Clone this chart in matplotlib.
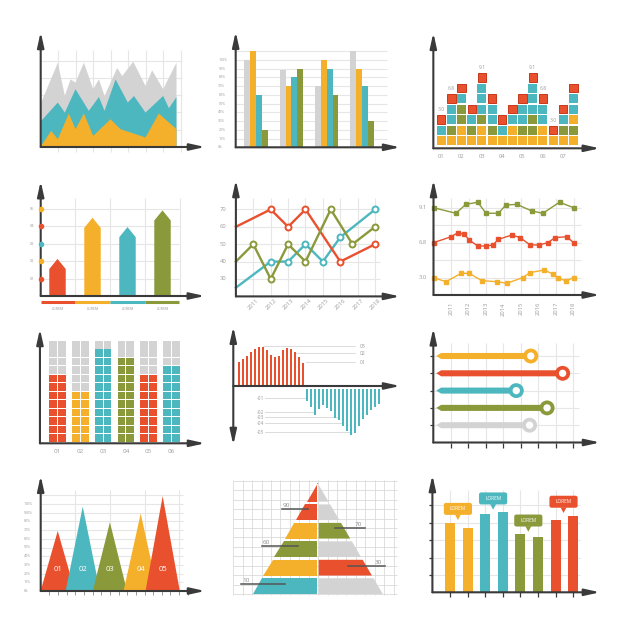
import numpy as np
import matplotlib.pyplot as plt
from matplotlib.patches import Polygon, Rectangle, Circle, FancyBboxPatch

plt.rcParams['font.family'] = ['Open Sans', 'DejaVu Sans']

W = H = 626
RED = '#e9512e'
ORANGE = '#f5b02b'
TEAL = '#4db7bf'
GREEN = '#8a9a3b'
GRAY = '#d3d3d3'
AXC = '#3a3a3a'
GRID = '#e6e6e6'
TXT = '#9c9c9c'
COL = {'r': RED, 'o': ORANGE, 't': TEAL, 'g': GREEN, 'y': GRAY}
GKW = dict(color=GRID, lw=0.8, zorder=0)

# --- data ---------------------------------------------------------------
# 1: overlapping areas
area_gray_x = [0, 0.95, 1.35, 1.68, 1.96, 2.44, 2.97, 3.3, 3.62, 4.34, 4.63, 5.26, 5.96, 6.34, 6.97, 7.73]
area_gray_y = [2.6, 4.9, 3.0, 3.94, 3.75, 4.9, 3.37, 3.94, 2.98, 4.6, 4.13, 4.96, 3.56, 4.46, 3.37, 4.9]
area_teal_x = [0, 0.95, 1.35, 1.96, 2.72, 3.3, 3.62, 4.25, 4.95, 5.3, 5.96, 6.97, 7.3, 7.73]
area_teal_y = [1.54, 2.6, 2.02, 3.37, 2.12, 2.92, 2.12, 3.94, 2.6, 2.98, 2.02, 2.98, 2.27, 2.92]
area_orange_x = [0, 0.57, 0.95, 1.58, 1.96, 2.44, 2.97, 3.96, 4.53, 5.96, 6.72, 7.73]
area_orange_y = [0.1, 0.96, 0.48, 1.96, 1.06, 1.96, 0.67, 1.63, 1.06, 0.58, 1.96, 1.06]

# 2: grouped percent bars
pct_gray = [100, 89, 70, 110]
pct_orange = [110, 70, 100, 90]
pct_teal = [60, 80, 90, 70]
pct_green = [20, 90, 60, 30]
pct_ticks = list(range(0, 101, 10))

# 3: stacked squares (bottom -> top)
sq_stacks = ['otr', 'ogttr', 'ooggtr', 'ogtr', 'oogtttr', 'ogttr', 'otr',
             'ootr', 'ogttr', 'oggtttr', 'oottr', 'or', 'ogtr', 'ogottr']
sq_notes = {1: '3.0', 2: '6.8', 5: '9.1', 10: '9.1', 11: '6.8', 12: '3.0'}
sq_xlabels = ['01', '02', '03', '04', '05', '06', '07']

# 4: arrow bars
arr_vals = [2.13, 4.5, 3.96, 4.92]
arr_colors = [RED, ORANGE, TEAL, GREEN]
arr_names = ['LOREM', 'LOREM', 'LOREM', 'LOREM']
arr_ylabels = ['01', '02', '03', '04', '05']
arr_dots = [RED, ORANGE, TEAL, RED, ORANGE]

# 5: line chart with rings
years = list(range(2011, 2019))
ln_red_x = [2010, 2012, 2013, 2014, 2016, 2018]
ln_red_y = [60, 70, 60, 70, 40, 50]
ln_teal_x = [2010, 2012, 2013, 2014, 2015, 2016, 2018]
ln_teal_y = [25, 40, 40, 50, 40, 54, 70]
ln_green_x = [2010, 2011, 2012, 2013, 2014, 2015.45, 2016.7, 2018]
ln_green_y = [40, 50, 30, 50, 40, 70, 50, 60]
ln_yticks = [30, 40, 50, 60, 70]

# 6: line chart with squares (values in grid steps)
sl_green_x = [2010, 2011.28, 2011.85, 2012.53, 2013.0, 2013.71, 2014.13, 2014.76, 2015.62, 2016.25, 2017.2, 2018]
sl_green_y = [4.99, 4.67, 5.18, 5.3, 4.67, 4.67, 5.14, 5.18, 4.8, 4.67, 5.3, 4.99]
sl_red_x = [2010, 2011.01, 2011.39, 2011.77, 2012.04, 2012.53, 2013.01, 2013.39, 2013.71, 2014.48, 2014.95,
            2015.52, 2016.04, 2016.53, 2016.95, 2017.62, 2018]
sl_red_y = [2.99, 3.33, 3.56, 3.47, 3.14, 2.8, 2.8, 2.86, 3.18, 3.43, 3.28, 2.86, 2.86, 2.99, 3.28, 3.33, 2.99]
sl_orange_x = [2010, 2010.72, 2011.58, 2012.04, 2012.76, 2013.62, 2014.19, 2015.09, 2015.52, 2016.34,
               2016.8, 2017.1, 2017.56, 2018]
sl_orange_y = [0.99, 0.76, 1.24, 1.24, 0.82, 0.76, 0.67, 0.99, 1.28, 1.43, 1.2, 0.99, 0.8, 0.99]
sl_ylabels = {1: '3.0', 3: '6.8', 5: '9.1'}

# 7: waffle columns
wf_filled = [8, 6, 11, 10, 8, 9]
wf_colors = [RED, ORANGE, TEAL, GREEN, RED, TEAL]
wf_rows = 12
wf_labels = ['01', '02', '03', '04', '05', '06']

# 8: positive / negative bars
pn_pos = [2.37, 2.67, 3.0, 3.37, 3.67, 3.93, 3.93, 3.6, 3.1, 2.93, 3.0, 3.6, 3.77, 3.7, 3.37, 2.87, 2.33]
pn_neg = [1.23, 1.83, 2.63, 2.07, 1.63, 1.9, 2.23, 2.9, 3.17, 3.73, 4.23, 4.63, 4.4, 3.73, 3.07, 2.63,
          2.17, 1.83, 1.5]
pn_pos_marks = [('03', 4.0, 6), ('02', 3.27, 13.9), ('01', 2.37, 16.6)]
pn_neg_marks = [('-01', 1.23, 17), ('-02', 2.63, 19), ('-03', 3.1, 24.5), ('-04', 3.73, 26), ('-05', 4.63, 28)]

# 9: lollipop bars (top -> bottom)
lp_vals = [5.57, 7.39, 4.74, 6.5, 5.5]
lp_colors = [ORANGE, RED, TEAL, GREEN, GRAY]

# 10: triangles
tri_pos = [1.97, 4.86, 8.0, 11.56, 14.1]
tri_vals = [69, 97, 79, 89, 109]
tri_colors = [RED, TEAL, GREEN, ORANGE, RED]
tri_labels = ['01', '02', '03', '04', '05']
tri_yticks = ['0%', '10%', '20%', '30%', '40%', '50%', '60%', '70%', '80%', '900%', '100%']

# 11: pyramid (bottom -> top)
pyr_left = [TEAL, ORANGE, GREEN, ORANGE, RED, RED]
pyr_right = [GRAY, RED, GRAY, GREEN, GRAY, GRAY]
pyr_notes = [('90', 9.01, 5.14, 7.96), ('70', 7.03, 10.79, 13.97), ('60', 5.05, 3.0, 6.89),
             ('30', 3.0, 12.2, 16.1), ('10', 1.06, 0.82, 5.48)]

# 12: paired bars with callouts
pb_vals = [4.0, 3.68, 4.48, 4.6, 3.33, 3.2, 4.18, 4.41]
pb_colors = [ORANGE, TEAL, GREEN, RED]
pb_callout = ['LOREM', 'LOREM', 'LOREM', 'LOREM']

# --- helpers ------------------------------------------------------------
fig = plt.figure(figsize=(6.26, 6.26), dpi=100)
fig.patch.set_facecolor('white')


def panel(l, t, r, b, ox, oy, ux, uy, x0=0.0, y0=0.0):
    # box in image pixels; (ox, oy) is where data (x0, y0) sits; ux/uy pixels per unit
    ax = fig.add_axes([l / W, 1 - b / H, (r - l) / W, (b - t) / H])
    ax.set_xlim(x0 + (l - ox) / ux, x0 + (r - ox) / ux)
    ax.set_ylim(y0 + (oy - b) / uy, y0 + (oy - t) / uy)
    ax.axis('off')
    return ax


def arrow(ax, p0, p1, style='-|>'):
    ax.annotate('', xy=p1, xytext=p0, annotation_clip=False, zorder=6,
                arrowprops=dict(arrowstyle=style + ',head_length=0.9,head_width=0.2',
                                color=AXC, lw=1.5, shrinkA=0, shrinkB=0))


def axes_arrows(ax, x0, y0, x1, y1):
    arrow(ax, (x0, y0), (x1, y0))
    arrow(ax, (x0, y0), (x0, y1))


# 1 ---------------------------------------------------------------------
ax = panel(25, 22, 212, 160, 40.7, 147, 17.5, 17.3)
ax.vlines(range(1, 9), -0.3, 5.6, **GKW)
ax.hlines(range(1, 6), 0, 8.1, **GKW)
ax.fill_between(area_gray_x, 0, area_gray_y, color=GRAY, lw=0)
ax.fill_between(area_teal_x, 0, area_teal_y, color=TEAL, lw=0)
ax.fill_between(area_orange_x, 0, area_orange_y, color=ORANGE, lw=0)
axes_arrows(ax, 0, 0, 9.39, 6.65)

# 2 ---------------------------------------------------------------------
ax = panel(205, 22, 408, 160, 256.1, 147.3, 35.3, 0.873, x0=1)
ax.hlines(range(10, 111, 10), 0.422, 4.70, **GKW)
w = 0.167
grp = np.arange(1, 5)
for k, (vals, c) in enumerate([(pct_gray, GRAY), (pct_orange, ORANGE), (pct_teal, TEAL), (pct_green, GREEN)]):
    ax.bar(grp + (k - 1.5) * w, vals, width=w, color=c, lw=0, zorder=2)
for v in pct_ticks:
    ax.text(-0.07, v, f'{v}%', ha='left', va='center', fontsize=2.6, color=TXT)
axes_arrows(ax, 0.422, 0, 5.08, 132.4)

# 3 ---------------------------------------------------------------------
ax = panel(418, 22, 608, 165, 431.0, 148.3, 10.17, 10.5)
for i, stack in enumerate(sq_stacks, start=1):
    for r, key in enumerate(stack):
        if key == 'r':
            ax.add_patch(Rectangle((i - 0.41, 0.34 + r), 0.82, 0.8, fc=RED, ec='#c7371b', lw=0.7))
        else:
            ax.add_patch(Rectangle((i - 0.4425, 0.31 + r), 0.885, 0.857, fc=COL[key], lw=0))
    if i in sq_notes:
        ax.text(i, len(stack) + 0.45, sq_notes[i], ha='center', va='bottom', fontsize=3.6, color=TXT)
for j, lab in enumerate(sq_xlabels):
    ax.text(1 + 2 * j, -0.8, lab, ha='center', va='center', fontsize=4.2, color=TXT)
axes_arrows(ax, 0.23, 0, 16.6, 11.0)

# 4 ---------------------------------------------------------------------
ax = panel(15, 172, 212, 318, 57.5, 296, 35, 17.4, x0=1)
ax.hlines(range(1, 6), 0.52, 4.48, **GKW)
ax.vlines([1.5, 2.5, 3.5, 4.5], 0, 5.61, **GKW)
hw = 0.235
for i, (v, c) in enumerate(zip(arr_vals, arr_colors), start=1):
    ax.add_patch(Polygon([(i - hw, 0), (i - hw, v - 0.58), (i, v), (i + hw, v - 0.58), (i + hw, 0)],
                         closed=True, fc=c, lw=0))
    ax.plot([max(i - 0.5, 0.52), min(i + 0.5, 4.48)], [-0.33, -0.33], color=c, lw=2.2,
            solid_capstyle='butt')
    ax.text(i, -0.72, arr_names[i - 1], ha='center', va='center', fontsize=2.6, color=TXT)
for k, (lab, c) in enumerate(zip(arr_ylabels, arr_dots), start=1):
    ax.text(0.26, k, lab, ha='center', va='center', fontsize=2.8, color=TXT)
    ax.plot(0.52, k, 'o', ms=3.0, color=c, zorder=7)
axes_arrows(ax, 0.52, 0, 5.21, 6.6)

# 5 ---------------------------------------------------------------------
ax = panel(208, 172, 408, 320, 235.9, 296.4, 17.4, 1.74, x0=2010, y0=20)
ax.hlines(ln_yticks, 2010, 2018.3, **GKW)
ax.vlines(years, 20, 76.4, **GKW)
for xs, ys, c in [(ln_teal_x, ln_teal_y, TEAL), (ln_red_x, ln_red_y, RED), (ln_green_x, ln_green_y, GREEN)]:
    ax.plot(xs, ys, color=c, lw=1.7, marker='o', ms=4.3, mfc='white', mec=c, mew=1.4,
            markevery=slice(1, None), solid_joinstyle='miter')
for v in ln_yticks:
    ax.text(2009.45, v, str(v), ha='right', va='center', fontsize=4.2, color=TXT)
for y in years:
    ax.text(y + 0.3, 18.4, str(y), ha='right', va='center', rotation=45, rotation_mode='anchor',
            fontsize=4.2, color=TXT)
axes_arrows(ax, 2010, 20, 2019.43, 86.9)

# 6 ---------------------------------------------------------------------
ax = panel(412, 172, 608, 325, 433.5, 295, 17.5, 17.5, x0=2010)
ax.hlines(range(1, 6), 2010, 2018.4, **GKW)
ax.vlines(years, 0, 5.53, **GKW)
for xs, ys, c in [(sl_green_x, sl_green_y, GREEN), (sl_red_x, sl_red_y, RED), (sl_orange_x, sl_orange_y, ORANGE)]:
    ax.plot(xs, ys, color=c, lw=1.0, marker='s', ms=2.3)
for k, lab in sl_ylabels.items():
    ax.text(2009.63, k, lab, ha='right', va='center', fontsize=4.2, color=TXT)
for y in years:
    ax.text(y, -0.4, str(y), ha='center', va='top', rotation=90, fontsize=4.2, color=TXT)
axes_arrows(ax, 2010, 0, 2019.5, 6.57)

# 7 ---------------------------------------------------------------------
ax = panel(15, 322, 212, 462, 57.5, 443.3, 22.8, 8.47, x0=1)
for i, (n, c) in enumerate(zip(wf_filled, wf_colors), start=1):
    for r in range(wf_rows):
        fc = c if r < n else GRAY
        for dx in (-0.36, 0.022):
            ax.add_patch(Rectangle((i + dx, 0.19 + r), 0.338, 0.885, fc=fc, lw=0))
    ax.text(i, -1.0, wf_labels[i - 1], ha='center', va='center', fontsize=4.5, color=TXT)
axes_arrows(ax, 0.23, 0, 7.47, 13.5)

# 8 ---------------------------------------------------------------------
ax = panel(215, 318, 408, 452, 239.3, 386, 4.0, 10.0)
for lab, v, x0 in pn_pos_marks:
    ax.plot([x0, 29], [v, v], color='#d6d6d6', lw=0.6, zorder=0)
    ax.text(30, v, lab, ha='left', va='center', fontsize=3.6, color=TXT)
for lab, v, x1 in pn_neg_marks:
    ax.plot([6.4, x1], [-v, -v], color='#d6d6d6', lw=0.6, zorder=0)
    ax.text(6.2, -v, lab, ha='right', va='center', fontsize=3.6, color=TXT)
ax.bar(np.arange(len(pn_pos)), pn_pos, width=0.45, color=RED, lw=0)
ax.bar(np.arange(len(pn_pos), len(pn_pos) + len(pn_neg)), -np.array(pn_neg), bottom=-0.25,
       width=0.45, color=TEAL, lw=0)
arrow(ax, (-1.5, 0), (40.2, 0))
arrow(ax, (-1.5, -5.9), (-1.5, 5.93), style='<|-|>')

# 9 ---------------------------------------------------------------------
ax = panel(412, 322, 608, 458, 433.3, 442.5, 17.5, 17.3)
ax.vlines(range(1, 9), 0, 5.73, **GKW)
ax.hlines(range(1, 6), 0, 8.3, **GKW)
ax.vlines(range(1, 9), -0.3, 0, color=AXC, lw=0.9)
ax.hlines(range(1, 6), -0.2, 0, color=AXC, lw=0.9)
bh = 0.175
for k, (v, c) in enumerate(zip(lp_vals, lp_colors)):
    y = 5 - k
    ax.add_patch(Polygon([(0.17, y), (0.45, y + bh), (v, y + bh), (v, y - bh), (0.45, y - bh)],
                         closed=True, fc=c, lw=0))
    ax.add_patch(Circle((v, y), 0.43, fc=c, lw=0))
    ax.add_patch(Circle((v, y), 0.21, fc='white', lw=0))
axes_arrows(ax, 0, 0, 9.53, 6.6)

# 10 --------------------------------------------------------------------
ax = panel(15, 470, 212, 608, 40.7, 591, 8.65, 0.87)
ax.hlines(range(10, 111, 10), 0, 16.4, **GKW)
ax.vlines([4, 8, 12, 16], 0, 116, **GKW)
ax.vlines(range(1, 18), -4.5, 0, color='#8a8a8a', lw=0.6)
for x, v, c, lab in zip(tri_pos, tri_vals, tri_colors, tri_labels):
    ax.add_patch(Polygon([(x - 1.98, 0), (x, v), (x + 1.98, 0)], closed=True, fc=c, lw=0))
    ax.text(x, 25, lab, ha='center', va='center', fontsize=5.5, color='white')
for k, lab in enumerate(tri_yticks):
    ax.text(-1.93, k * 10, lab, ha='left', va='center', fontsize=2.6, color=TXT)
axes_arrows(ax, 0, 0, 19.0, 132.5)

# 11 --------------------------------------------------------------------
ax = panel(222, 470, 408, 604, 233.3, 594, 9.43, 9.43)
ax.hlines(range(0, 13), 0, 17.4, color='#dadada', lw=0.6, zorder=0)
ax.vlines(range(0, 18), -0.1, 12.1, color='#dadada', lw=0.6, zorder=0)
cx, top, base_hw = 8.95, 11.75, 6.9
th = top / len(pyr_left)
gap = 0.29


def half(y):
    return base_hw * (1 - y / top)


for k, (cl, cr) in enumerate(zip(pyr_left, pyr_right)):
    y0 = k * th
    y1 = top if k == len(pyr_left) - 1 else (k + 1) * th - gap
    ax.add_patch(Polygon([(cx - half(y0), y0), (cx - 0.1, y0), (cx - 0.1, y1), (cx - half(y1), y1)],
                         closed=True, fc=cl, lw=0, zorder=1))
    ax.add_patch(Polygon([(cx + 0.1, y0), (cx + half(y0), y0), (cx + half(y1), y1), (cx + 0.1, y1)],
                         closed=True, fc=cr, lw=0, zorder=1))
for lab, y, x0, x1 in pyr_notes:
    ax.plot([x0, x1], [y, y], color='#555555', lw=1.1, zorder=3)
    tx = x0 if x0 < cx else x1 - 1.2
    ax.text(tx + 0.1, y + 0.12, lab, ha='left', va='bottom', fontsize=4.6, color='#8c8c8c')

# 12 --------------------------------------------------------------------
ax = panel(412, 470, 608, 608, 432.4, 592.3, 17.6, 17.4)
ax.hlines(range(1, 6), 0, 8.39, **GKW)
ax.vlines(range(1, 9), 0, 5.88, **GKW)
ax.vlines(range(1, 9), -0.25, 0, color=AXC, lw=0.9)
ax.hlines(range(1, 6), -0.2, 0, color=AXC, lw=0.9)
bar_cols = [c for c in pb_colors for _ in range(2)]
ax.bar(np.arange(1, 9), pb_vals, width=0.57, color=bar_cols, lw=0, zorder=2)
for g, (c, lab) in enumerate(zip(pb_colors, pb_callout)):
    gx = 1.5 + 2 * g - 0.05
    bot = max(pb_vals[2 * g], pb_vals[2 * g + 1]) + 0.45
    ax.add_patch(FancyBboxPatch((gx - 0.8, bot), 1.6, 0.69, boxstyle='round,pad=0,rounding_size=0.12',
                                fc=c, ec='none', zorder=3))
    ax.add_patch(Polygon([(gx - 0.17, bot + 0.02), (gx + 0.17, bot + 0.02), (gx, bot - 0.3)],
                         closed=True, fc=c, lw=0, zorder=3))
    ax.text(gx, bot + 0.345, lab, ha='center', va='center', fontsize=3.4, color='white', zorder=4)
axes_arrows(ax, 0, 0, 9.52, 6.74)

fig.savefig('out.png', dpi=100, facecolor='white')
